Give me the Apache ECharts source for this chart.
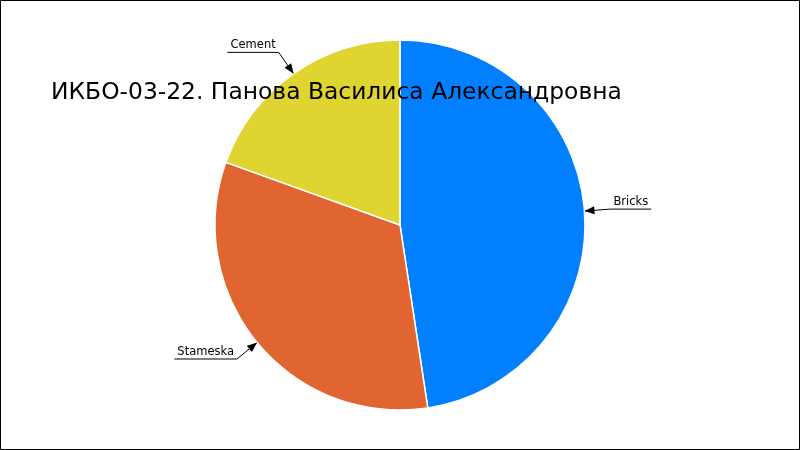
<!DOCTYPE html>
<html>
<head>
<meta charset="utf-8">
<script src="https://cdn.jsdelivr.net/npm/echarts@6/dist/echarts.min.js"></script>
<style>
html,body{margin:0;padding:0;background:#fff;}
#main{width:800px;height:450px;}
</style>
</head>
<body>
<div id="main"></div>
<script>
const titleText = 'ИКБО-03-22. Панова Василиса Александровна';
const categories = ['Bricks', 'Stameska', 'Cement'];
const values = [47.6, 32.9, 19.5];
const colors = ['#0080FF', '#E06530', '#E0D530'];

const chart = echarts.init(document.getElementById('main'), null, {renderer: 'canvas'});
const arrows = {};

function buildArrows() {
  const g = [];
  Object.keys(arrows).forEach(function (k) {
    const a = arrows[k];
    const tip = a[0], from = a[1];
    const dx = tip[0] - from[0], dy = tip[1] - from[1];
    const len = Math.sqrt(dx * dx + dy * dy);
    const ux = dx / len, uy = dy / len;
    const L = 10, W = 4;
    const bx = tip[0] - ux * L, by = tip[1] - uy * L;
    g.push({
      type: 'polygon', silent: true, z: 100,
      shape: {points: [tip, [bx - uy * W, by + ux * W], [bx + uy * W, by - ux * W]]},
      style: {fill: '#000'}
    });
  });
  g.push({
    type: 'rect', silent: true, z: 100,
    shape: {x: 0.5, y: 0.5, width: 799, height: 449},
    style: {fill: 'none', stroke: '#000', lineWidth: 1}
  });
  return g;
}

const option = {
  animation: false,
  backgroundColor: '#fff',
  title: {
    text: titleText,
    left: 46,
    top: 76,
    textStyle: {fontFamily: 'DejaVu Sans', fontSize: 23.4, fontWeight: 'normal', color: '#000'}
  },
  series: [{
    type: 'pie',
    center: ['50%', '50%'],
    radius: 185,
    startAngle: 90,
    clockwise: true,
    silent: true,
    data: categories.map(function (c, i) {
      return {name: c, value: values[i], itemStyle: {color: colors[i]}};
    }),
    itemStyle: {borderColor: '#fff', borderWidth: 1.5},
    label: {
      show: true,
      position: 'outside',
      formatter: '{b}',
      fontFamily: 'DejaVu Sans',
      fontSize: 11.5,
      color: '#000'
    },
    labelLine: {
      show: true,
      length: 26,
      length2: 40,
      lineStyle: {color: '#000', width: 1}
    },
    labelLayout: function (params) {
      const pts = params.labelLinePoints;
      if (!pts) return {};
      const p0 = pts[0], p1 = pts[1];
      const w = params.labelRect.width + 6;
      const isLeft = p1[0] < 400;
      const p2 = [isLeft ? p1[0] - w : p1[0] + w, p1[1]];
      arrows[params.dataIndex] = [p0, p1];
      return {
        x: (p1[0] + p2[0]) / 2,
        y: p1[1] - 1,
        align: 'center',
        verticalAlign: 'bottom',
        labelLinePoints: [p0, p1, p2]
      };
    }
  }]
};

chart.setOption(option);
chart.setOption({graphic: buildArrows()});
</script>
</body>
</html>
